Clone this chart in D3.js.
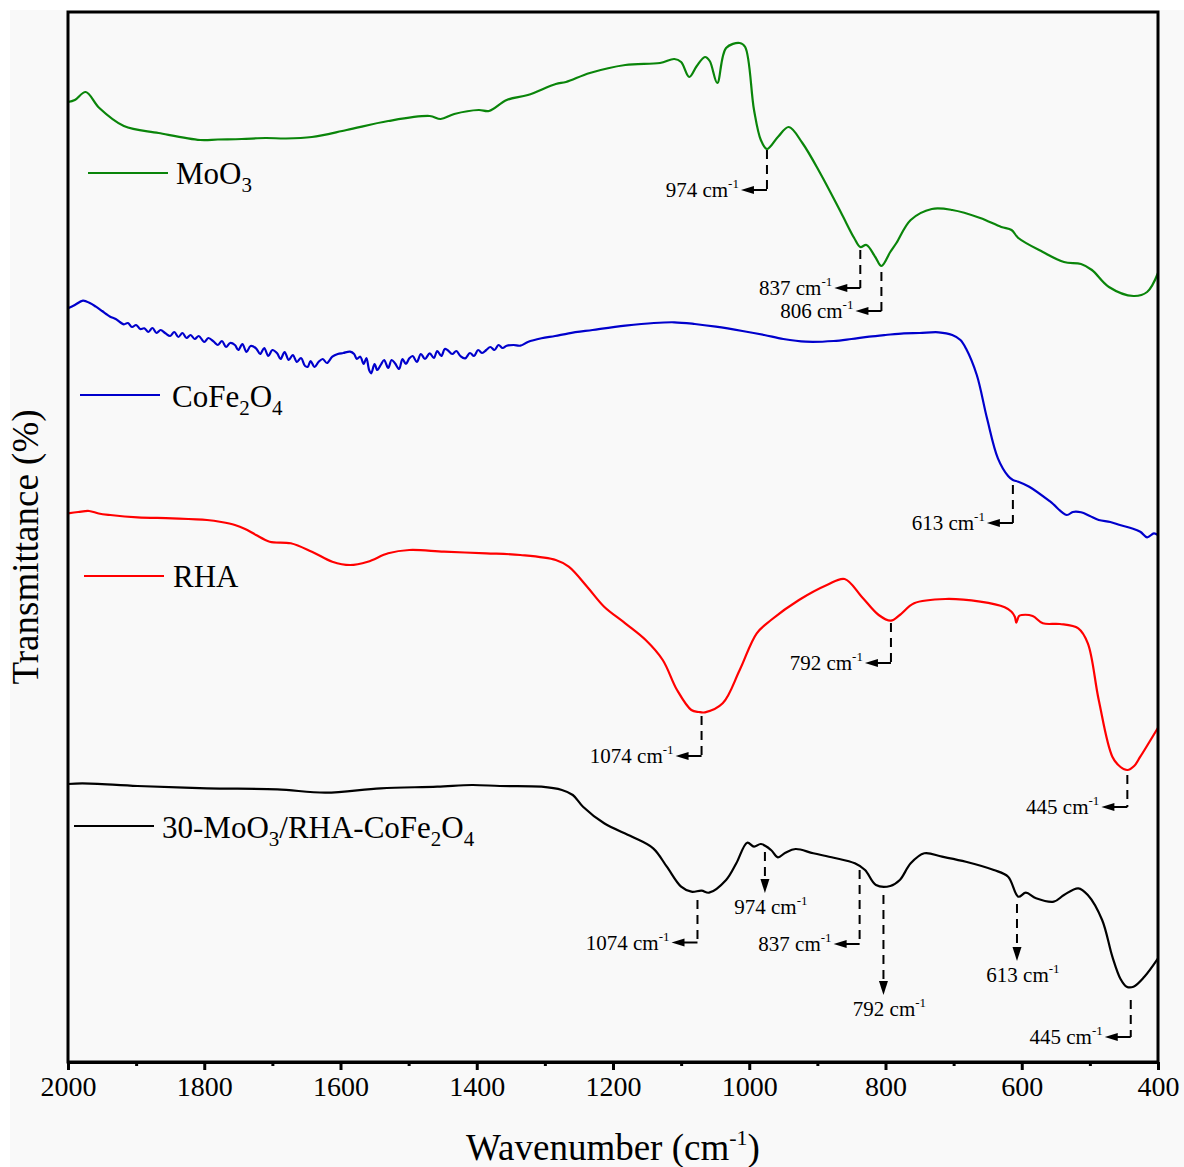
<!DOCTYPE html>
<html><head><meta charset="utf-8">
<script src="https://cdn.jsdelivr.net/npm/d3@7"></script>
<style>
body{margin:0;background:#fff}
svg{display:block}
text{font-family:"Liberation Serif","Times New Roman",serif;fill:#000}
</style>
</head><body>
<svg id="chart" width="1184" height="1167"></svg>
<script>
// ---------- DATA ----------
const xTicks = [2000,1800,1600,1400,1200,1000,800,600,400];
const xMinorTicks = [1900,1700,1500,1300,1100,900,700,500];
const seriesNames = ["MoO3","CoFe2O4","RHA","30-MoO3/RHA-CoFe2O4"];
const seriesColors = ["#0a850a","#0000cc","#ff0000","#000000"];

const moo3 = [[2000,96.0],[1990,96.2],[1974,97.0],[1954,95.4],[1918,93.6],[1867,92.9],[1806,92.2],[1780,92.25],[1745,92.3],[1710,92.4],[1680,92.35],[1642,92.5],[1591,93.2],[1530,94.1],[1469,94.6],[1453,94.3],[1433,94.8],[1397,95.2],[1382,95.1],[1356,96.2],[1325,96.7],[1284,97.8],[1269,98.0],[1234,98.9],[1182,99.7],[1131,99.9],[1110,100.3],[1100,100.0],[1088,98.5],[1077,99.6],[1065,100.5],[1058,100.1],[1047,97.9],[1034,101.4],[1014,101.9],[1006,101.5],[993,95.2],[983,92.2],[974,91.3],[958,92.5],[942,93.5],[922,91.9],[896,88.9],[865,84.9],[846,82.4],[837,81.5],[828,81.7],[815,80.5],[806,79.6],[793,81.0],[784,81.9],[763,84.2],[732,85.3],[702,85.2],[661,84.4],[630,83.5],[615,83.2],[605,82.4],[569,81.0],[538,80.0],[513,79.8],[497,79.2],[472,77.5],[436,76.6],[416,77.0],[400,78.9]];

const cofe2o4 = [[2000,75.37],[1990,75.7],[1978,76.13],[1968,75.9],[1959,75.53],[1950,75.1],[1944,74.8],[1938,74.53],[1930,74.3],[1924,74.0],[1918,73.77],[1912,73.9],[1906,73.5],[1900,73.7],[1894,73.3],[1888,73.37],[1882,73.0],[1876,73.4],[1870,72.9],[1864,73.2],[1857,72.87],[1850,72.6],[1844,73.0],[1838,72.5],[1832,72.9],[1826,72.4],[1820,72.7],[1814,72.3],[1808,72.6],[1800,72.0],[1794,72.4],[1786,72.03],[1780,71.7],[1774,72.1],[1768,71.5],[1762,71.9],[1755,71.7],[1750,71.2],[1744,71.8],[1738,71.0],[1732,71.6],[1724,71.37],[1718,70.8],[1712,71.4],[1706,70.6],[1700,71.2],[1693,70.87],[1688,70.3],[1682,71.0],[1676,70.2],[1670,70.7],[1664,70.0],[1658,70.4],[1652,69.6],[1648,69.53],[1644,70.1],[1638,69.5],[1632,70.03],[1626,70.3],[1620,69.9],[1612,70.53],[1604,70.8],[1596,70.9],[1586,71.03],[1580,70.8],[1576,70.3],[1571,70.53],[1566,69.8],[1562,70.4],[1558,69.2],[1555,68.87],[1550,69.8],[1546,69.2],[1541,69.7],[1536,70.2],[1530,69.4],[1525,70.2],[1520,69.87],[1514,69.3],[1509,70.3],[1504,69.8],[1499,70.37],[1494,70.6],[1488,70.0],[1482,70.8],[1476,70.3],[1469,70.87],[1463,70.4],[1458,71.1],[1452,70.6],[1447,71.3],[1443,71.2],[1436,70.8],[1430,71.1],[1424,70.6],[1417,70.37],[1410,70.9],[1404,70.6],[1398,71.2],[1392,70.9],[1386,71.2],[1380,71.5],[1374,71.2],[1368,71.7],[1362,71.4],[1356,71.63],[1346,71.7],[1336,71.63],[1325,72.0],[1305,72.37],[1285,72.6],[1265,72.87],[1230,73.2],[1182,73.63],[1140,73.9],[1110,73.97],[1080,73.8],[1049,73.53],[1010,73.1],[978,72.7],[950,72.3],[917,72.03],[876,72.1],[850,72.3],[824,72.53],[800,72.7],[773,72.87],[750,72.9],[722,72.97],[702,72.7],[690,72.2],[682,71.37],[666,68.7],[651,64.37],[635,60.37],[620,58.6],[613,58.2],[605,58.03],[589,57.53],[558,56.03],[534,54.7],[525,55.0],[513,54.97],[500,54.6],[487,54.2],[470,54.0],[456,53.7],[440,53.4],[426,53.03],[416,52.47],[406,52.87],[400,52.7]];

const rha = [[2000,54.87],[1985,55.0],[1969,55.1],[1955,54.85],[1938,54.7],[1898,54.47],[1847,54.37],[1796,54.2],[1775,54.0],[1755,53.7],[1740,53.3],[1724,52.7],[1704,52.03],[1673,51.87],[1642,51.03],[1612,50.03],[1586,49.7],[1560,50.03],[1530,50.87],[1499,51.2],[1448,51.03],[1386,50.87],[1336,50.7],[1284,50.2],[1265,49.53],[1238,47.53],[1213,45.53],[1182,43.87],[1152,42.2],[1127,40.2],[1106,37.2],[1085,35.2],[1074,35.0],[1065,34.97],[1039,35.87],[1014,39.2],[989,42.87],[968,44.2],[927,46.2],[886,47.7],[860,48.3],[835,46.53],[810,44.7],[792,44.13],[779,44.7],[758,45.87],[712,46.3],[661,46.03],[625,45.47],[615,45.03],[610,44.5],[608,43.93],[604,44.6],[600,44.7],[584,44.6],[569,43.87],[544,43.8],[517,43.37],[503,41.87],[487,36.2],[467,30.53],[455,29.5],[445,29.2],[435,29.6],[426,30.53],[400,33.43]];

const composite = [[2000,27.8],[1979,27.87],[1898,27.6],[1796,27.37],[1693,27.27],[1622,26.93],[1541,27.37],[1458,27.53],[1407,27.7],[1366,27.6],[1305,27.53],[1275,27.2],[1259,26.7],[1244,25.53],[1213,23.87],[1172,22.53],[1141,21.37],[1121,19.53],[1100,17.53],[1085,17.03],[1070,17.13],[1059,16.93],[1034,18.2],[1019,19.87],[1003,21.93],[993,21.53],[983,21.8],[968,21.2],[958,20.47],[947,20.93],[932,21.3],[906,20.87],[876,20.43],[845,19.87],[830,19.2],[814,17.7],[793,17.6],[779,18.2],[763,19.87],[743,20.87],[717,20.53],[682,20.03],[641,19.2],[620,18.53],[605,16.53],[594,16.93],[579,16.37],[553,16.03],[538,16.7],[517,17.37],[503,16.7],[482,14.2],[467,10.53],[455,8.3],[446,7.53],[436,7.53],[420,8.53],[400,10.37]];

// peak annotations: series index, wavenumber position, label, dashed-line start/end (transmittance), arrow kind
const annSeries = [0,0,0,1,2,2,2,3,3,3,3,3,3];
const annAt     = [974,837,806,613,1070,792,445,1076,977,838,803,607,440];
const annLabel  = ["974","837","806","613","1074","792","445","1074","974","837","792","613","445"];
const annFrom   = [91.2,81.2,79.0,57.7,34.6,43.9,28.7,16.2,21.0,19.2,16.7,15.8,6.2];
const annTo     = [87.2,77.4,75.1,53.9,30.6,39.9,25.5,11.95,16.9,11.8,6.7,10.1,2.5];
const annKind   = ["left","left","left","left","left","left","left","left","down","left","down","down","left"];

// ---------- LAYOUT ----------
const svg = d3.select("#chart");
const L = 68, R = 1158, T = 12, B = 1062;
svg.append("rect").attr("x",10).attr("y",10).attr("width",1174).attr("height",1157).attr("fill","#f9f9f9");

const x = d3.scaleLinear().domain([2000,400]).range([L,R]);
const y = d3.scaleLinear().domain([0,105]).range([B,T]);

const line = d3.line().x(d=>x(d[0])).y(d=>y(d[1])).curve(d3.curveCatmullRom.alpha(0.5));
const allSeries = [moo3,cofe2o4,rha,composite];

allSeries.forEach((s,i)=>{
  svg.append("path").datum(s).attr("d",line).attr("fill","none")
    .attr("stroke",seriesColors[i]).attr("stroke-width",2.2).attr("stroke-linejoin","round");
});

// annotations
const ag = svg.append("g");
annAt.forEach((w,i)=>{
  const px = x(w), y1 = y(annFrom[i]), y2 = y(annTo[i]);
  if(annKind[i]==="left"){
    ag.append("line").attr("x1",px).attr("x2",px).attr("y1",y1).attr("y2",y2)
      .attr("stroke","#000").attr("stroke-width",2).attr("stroke-dasharray","9,6");
    ag.append("line").attr("x1",px).attr("x2",px-14).attr("y1",y2).attr("y2",y2)
      .attr("stroke","#000").attr("stroke-width",2);
    ag.append("path").attr("d",`M${px-26},${y2}L${px-13},${y2-4}L${px-13},${y2+4}Z`).attr("fill","#000");
    const t = ag.append("text").attr("x",px-28).attr("y",y2+7).attr("text-anchor","end").attr("font-size",21);
    t.append("tspan").text(annLabel[i]+" cm");
    t.append("tspan").attr("font-size",13).attr("dy",-9).text("-1");
  } else {
    ag.append("line").attr("x1",px).attr("x2",px).attr("y1",y1).attr("y2",y2-12)
      .attr("stroke","#000").attr("stroke-width",2).attr("stroke-dasharray","9,6");
    ag.append("path").attr("d",`M${px},${y2}L${px-4.5},${y2-14}L${px+4.5},${y2-14}Z`).attr("fill","#000");
    const t = ag.append("text").attr("x",px+6).attr("y",y2+21).attr("text-anchor","middle").attr("font-size",21);
    t.append("tspan").text(annLabel[i]+" cm");
    t.append("tspan").attr("font-size",13).attr("dy",-9).text("-1");
  }
});

// legend (labels with subscripts)
const legendPos = [[88,173,176,184],[80,395,172,407],[84,576,173,587],[74,826,162,838]];
const legendParts = [
  [["MoO",0],["3",1]],
  [["CoFe",0],["2",1],["O",0],["4",1]],
  [["RHA",0]],
  [["30-MoO",0],["3",1],["/RHA-CoFe",0],["2",1],["O",0],["4",1]]
];
legendPos.forEach((p,i)=>{
  svg.append("line").attr("x1",p[0]).attr("x2",p[0]+80).attr("y1",p[1]).attr("y2",p[1])
    .attr("stroke",seriesColors[i]).attr("stroke-width",2.2);
  const t = svg.append("text").attr("x",p[2]).attr("y",p[3]).attr("font-size",31);
  let sub=false;
  legendParts[i].forEach(([s,isSub])=>{
    const ts = t.append("tspan").text(s);
    if(isSub && !sub){ ts.attr("font-size",21).attr("dy",8); sub=true; }
    else if(!isSub && sub){ ts.attr("dy",-8); sub=false; }
    else if(isSub){ ts.attr("font-size",21); }
  });
});

// frame
svg.append("rect").attr("x",L).attr("y",T).attr("width",R-L).attr("height",B-T)
  .attr("fill","none").attr("stroke","#000").attr("stroke-width",3);

// x axis
const xAxis = d3.axisBottom(x).tickValues(xTicks).tickSize(8).tickSizeOuter(0).tickPadding(6).tickFormat(d3.format("d"));
const gx = svg.append("g").attr("transform",`translate(0,${B})`).call(xAxis);
gx.select(".domain").attr("stroke-width",3);
gx.selectAll(".tick line").attr("stroke-width",3);
gx.selectAll(".tick text").attr("font-size",28).attr("font-family","Liberation Serif").attr("dy","0.72em");
const gm = svg.append("g").attr("transform",`translate(0,${B})`)
  .call(d3.axisBottom(x).tickValues(xMinorTicks).tickSize(4).tickFormat(""));
gm.select(".domain").remove();
gm.selectAll(".tick line").attr("stroke-width",3);

// axis titles
const xt = svg.append("text").attr("x",(L+R)/2).attr("y",1160).attr("text-anchor","middle").attr("font-size",37);
xt.append("tspan").text("Wavenumber (cm");
xt.append("tspan").attr("font-size",22).attr("dy",-15).text("-1");
xt.append("tspan").attr("dy",15).text(")");
svg.append("text").attr("transform",`translate(38,${(T+B)/2+10}) rotate(-90)`).attr("text-anchor","middle")
  .attr("font-size",37).text("Transmittance (%)");
</script>
</body></html>
